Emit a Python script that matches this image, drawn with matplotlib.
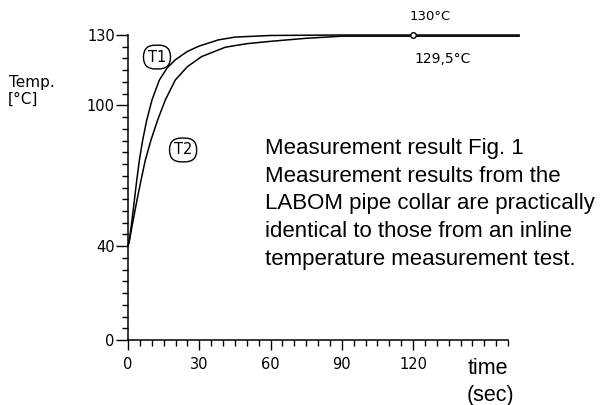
import matplotlib
matplotlib.use("Agg")
import matplotlib.pyplot as plt
from matplotlib.ticker import MultipleLocator, FixedLocator

# Data
t1_time = [0, 0.6, 1.7, 2.7, 3.7, 4.8, 6.2, 7.9, 10.1, 13.2, 16.5, 20, 25, 30, 38, 45, 60, 90, 165]
t1_temp = [40, 42.6, 51.2, 59.7, 68.2, 76.7, 85.3, 93.8, 102.3, 110.8, 116, 119.5, 123, 125.3, 127.9, 129.1, 129.8, 130, 130]
t2_time = [0, 0.6, 2.2, 3.8, 5.5, 7.3, 9.7, 12.5, 15.7, 19.9, 25, 31, 41, 50, 60, 75, 90, 165]
t2_temp = [40, 42.6, 51.2, 59.7, 68.2, 76.7, 85.3, 93.8, 102.3, 110.8, 116.5, 120.8, 124.8, 126.3, 127.3, 128.6, 129.5, 129.5]
y_labels = [0, 40, 100, 130]
x_labels = [0, 30, 60, 90, 120]
marker_t = [120]
marker_T = [130]

fig = plt.figure(figsize=(6.05, 4.05), dpi=100)
ax = fig.add_axes([128/605, 1-340/405, 380/605, 305/405])
ax.set_xlim(0, 160)
ax.set_ylim(0, 130)

lw = 1.1
ax.plot(t1_time, t1_temp, color='black', lw=lw, clip_on=False, solid_capstyle='butt', solid_joinstyle='round')
ax.plot(t2_time, t2_temp, color='black', lw=lw, clip_on=False, solid_capstyle='butt', solid_joinstyle='round')
ax.plot(marker_t, marker_T, 'o', ms=4, mfc='white', mec='black', mew=1.0, clip_on=False, zorder=5)

for s in ['top', 'right']:
    ax.spines[s].set_visible(False)
for s in ['left', 'bottom']:
    ax.spines[s].set_linewidth(1.1)

ax.yaxis.set_major_locator(FixedLocator(y_labels))
ax.yaxis.set_minor_locator(MultipleLocator(5))
ax.xaxis.set_major_locator(FixedLocator(x_labels))
ax.xaxis.set_minor_locator(MultipleLocator(5))
ax.tick_params(axis='y', which='major', direction='out', length=8.5, width=1.0, pad=1, labelsize=10.5)
ax.tick_params(axis='y', which='minor', direction='out', length=4.5, width=1.0)
ax.tick_params(axis='x', which='major', direction='out', length=7, width=1.0, pad=5, labelsize=10.5)
ax.tick_params(axis='x', which='minor', direction='out', length=4, width=1.0)

fig.text(9/605, 1-82/405, "Temp.", fontsize=11, va='center', ha='left')
fig.text(8/605, 1-99/405, "[°C]", fontsize=11, va='center', ha='left')

box = dict(boxstyle='round,pad=0.3,rounding_size=0.8', fc='white', ec='black', lw=1.0)
ax.text(12.2, 120.6, "T1", fontsize=10.5, ha='center', va='center', bbox=box)
ax.text(23.2, 81, "T2", fontsize=10.5, ha='center', va='center', bbox=box)

fig.text(430/605, 1-16/405, "130°C", fontsize=9.5, ha='center', va='center')
fig.text(443/605, 1-59/405, "129,5°C", fontsize=10, ha='center', va='center')

msg = ("Measurement result Fig. 1\n"
       "Measurement results from the\n"
       "LABOM pipe collar are practically\n"
       "identical to those from an inline\n"
       "temperature measurement test.")
fig.text(265/605, 1-138/405, msg, fontsize=16, family='Liberation Sans',
         ha='left', va='top', linespacing=1.42)

fig.text(468/605, 1-369/405, "time", fontsize=15.5, family='Liberation Sans', ha='left', va='center')
fig.text(467/605, 1-395/405, "(sec)", fontsize=15.5, family='Liberation Sans', ha='left', va='center')

fig.savefig("out.png", dpi=100)
